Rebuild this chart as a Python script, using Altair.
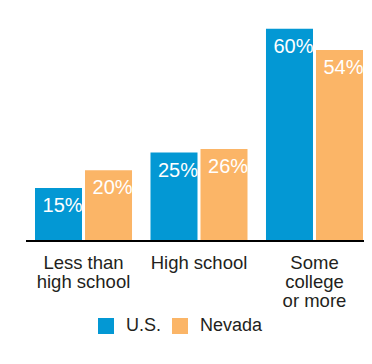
import altair as alt
import pandas as pd

categories = ["Less than|high school", "High school", "Some|college|or more"]
series = ["U.S.", "Nevada"]
us_values = [15, 25, 60]
nevada_values = [20, 26, 54]
colors = ["#0398d4", "#fbb567"]

rows = []
for c, u, n in zip(categories, us_values, nevada_values):
    rows.append({"cat": c, "series": "U.S.", "value": u, "label": f"{u}%"})
    rows.append({"cat": c, "series": "Nevada", "value": n, "label": f"{n}%"})
df = pd.DataFrame(rows)

FONT = "Liberation Sans"
W, H = 328, 230

x = alt.X("cat:N", sort=categories, title=None,
          scale=alt.Scale(paddingInner=0.16, paddingOuter=0),
          axis=alt.Axis(labelExpr="split(datum.label, '|')", labelAngle=0,
                        labelFontSize=18.5, labelFont=FONT, labelColor="#231f20",
                        labelLineHeight=19, labelPadding=12, ticks=False,
                        domain=False, labelBaseline="top"))
xo = alt.XOffset("series:N", sort=series, scale=alt.Scale(paddingInner=0.06))
y = alt.Y("value:Q", scale=alt.Scale(domain=[0, 65]), axis=None)
color = alt.Color("series:N", sort=series,
                  scale=alt.Scale(domain=series, range=colors),
                  legend=alt.Legend(title=None, orient="none", legendX=62, legendY=306,
                                    direction="horizontal", symbolType="square",
                                    symbolSize=256, symbolStrokeWidth=0,
                                    labelFontSize=18, labelFont=FONT,
                                    labelColor="#231f20", labelOffset=11,
                                    columnPadding=9, symbolOpacity=1))

bars = alt.Chart(df).mark_bar(opacity=1).encode(x=x, xOffset=xo, y=y, color=color)
text = alt.Chart(df).mark_text(align="left", baseline="alphabetic", dx=-16, dy=24,
                               color="white", fontSize=20, font=FONT).encode(
    x=alt.X("cat:N", sort=categories), xOffset=alt.XOffset("series:N", sort=series),
    y="value:Q", text="label:N")
baseline = alt.Chart(df).mark_rule(color="#000000", strokeWidth=2).encode(
    x=alt.value(-9), x2=alt.value(W + 2), y=alt.value(H))

chart = alt.layer(bars, text, baseline).properties(
    width=W, height=H,
    autosize=alt.AutoSizeParams(type="none"),
    padding={"left": 27, "top": 3, "right": 1, "bottom": 110},
    background="white",
).configure_view(stroke=None)

chart.save("out.html", embed_options={"renderer": "svg", "actions": False})
